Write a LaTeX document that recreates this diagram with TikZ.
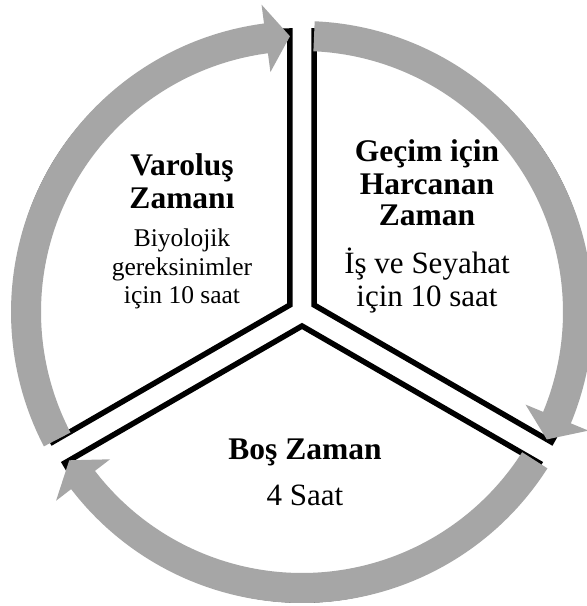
\documentclass[tikz,border=0pt]{standalone}
\usepackage{fontspec}
\setmainfont{Liberation Serif}
\definecolor{ringgray}{RGB}{166,166,166}
\begin{document}
\begin{tikzpicture}[x=1pt,y=1pt,
  sector/.style={draw=black, line width=5.5pt, fill=white, line join=miter},
  cyclearrow/.style={fill=ringgray, draw=none},
  ttl/.style={anchor=base, inner sep=0pt, font=\fontsize{31.5}{33}\selectfont\bfseries},
  dsc/.style={anchor=base, inner sep=0pt, font=\fontsize{31}{33}\selectfont},
  dscs/.style={anchor=base, inner sep=0pt, font=\fontsize{25.5}{28}\selectfont}]
\useasboundingbox (0,0) rectangle (587,606);
\fill[white] (0,0) rectangle (587,606);
\begin{scope}[shift={(302,294)}]
  % exploded pie sectors
  \begin{scope}[shift={(150:14)}]
    \draw[sector] (0,0) -- (90:274) arc[start angle=90,end angle=210,radius=274] -- cycle;
  \end{scope}
  \begin{scope}[shift={(30:14)}]
    \draw[sector] (0,0) -- (-30:274) arc[start angle=-30,end angle=90,radius=274] -- cycle;
  \end{scope}
  \begin{scope}[shift={(270:14)}]
    \draw[sector] (0,0) -- (210:274) arc[start angle=210,end angle=330,radius=274] -- cycle;
  \end{scope}
  % circular arrows (clockwise)
  \foreach \s in {207.5,87.5,-32.5}{
    \pgfmathsetmacro{\b}{\s-110}
    \pgfmathsetmacro{\t}{\s-115}
    \fill[cyclearrow] (\s:291) arc[start angle=\s,end angle=\b,radius=291]
      -- (\b:310) -- (\t:276) -- (\b:242) -- (\b:261)
      arc[start angle=\b,end angle=\s,radius=261] -- cycle;
  }
\end{scope}
% texts
\node[ttl] (v1) at (182,430) {Varoluş};
\node[ttl] (v2) at (182,397) {Zamanı};
\node[dscs] (v3) at (182,359) {Biyolojik};
\node[dscs] (v4) at (182,330) {gereksinimler};
\node[dscs] (v5) at (182,302) {için 10 saat};
\node[ttl] (g1) at (427,444) {Geçim için};
\node[ttl] (g2) at (427,411) {Harcanan};
\node[ttl] (g3) at (427,380) {Zaman};
\node[dsc] (g4) at (427,332) {İş ve Seyahat};
\node[dsc] (g5) at (427,299) {için 10 saat};
\node[ttl] (b1) at (305,146) {Boş Zaman};
\node[dsc] (b2) at (305,100) {4 Saat};
\end{tikzpicture}
\end{document}
